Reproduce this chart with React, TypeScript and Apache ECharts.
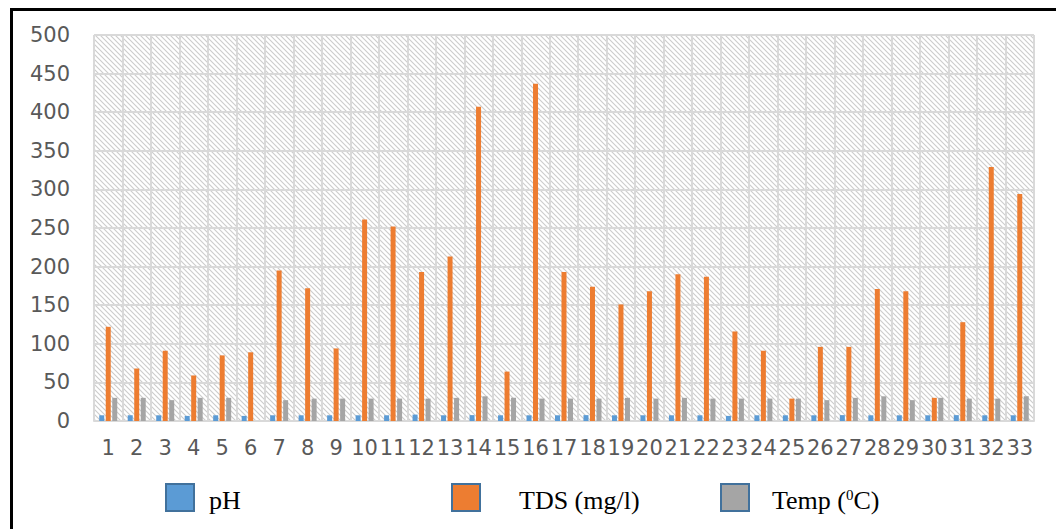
import React, { useEffect, useRef } from "react";
import * as echarts from "echarts";

const categories = Array.from({ length: 33 }, (_, i) => String(i + 1));
const phValues = [7.4, 7.4, 7.4, 6.6, 7.4, 6.6, 7.4, 7.4, 7.4, 7.4, 7.4, 8.3, 7.4, 7.6, 7.4, 7.4, 7.4, 7.6, 7.4, 7.4, 7.4, 7.4, 6.6, 7.4, 7.4, 7.4, 7.6, 7.4, 7.4, 7.4, 7.6, 7.4, 7.4];
const tdsValues = [122, 68, 91, 59, 85, 89, 195, 172, 94, 261, 252, 193, 213, 407, 64, 437, 193, 174, 151, 168, 190, 187, 116, 91, 29, 96, 96, 171, 168, 30, 128, 329, 294];
const tempValues = [30, 30, 27, 30, 30, 0, 27, 29, 29, 29, 29, 29, 30, 32, 30, 29, 29, 29, 30, 29, 30, 29, 29, 29, 29, 27, 30, 32, 27, 30, 29, 29, 32];
const yTicks = { min: 0, max: 500, interval: 50 };
const seriesNames = ["pH", "TDS (mg/l)", "Temp (0C)"];

const hatchSvg =
  '<svg xmlns="http://www.w3.org/2000/svg" width="5" height="5">' +
  '<rect width="5" height="5" fill="#ffffff"/>' +
  '<path d="M-1,-1 L6,6 M-1,4 L1,6 M4,-1 L6,1" stroke="#cccccc" stroke-width="1.1"/>' +
  "</svg>";
const hatchUrl = "data:image/svg+xml;base64," + btoa(hatchSvg);

export default function App() {
  const ref = useRef<HTMLDivElement>(null);
  useEffect(() => {
    if (!ref.current) return;
    const chart = echarts.init(ref.current, null, { renderer: "svg" });
    const legendText = {
      fontFamily: "Liberation Serif",
      fontSize: 26,
      color: "#000",
      rich: {
        sup: { fontSize: 15, fontFamily: "Liberation Serif", color: "#000", verticalAlign: "bottom", padding: [0, 0, 12, 0] },
      },
    };
    const legendBase = {
      top: 478,
      icon: "rect",
      itemWidth: 28,
      itemHeight: 27,
      itemStyle: { borderColor: "#41719C", borderWidth: 2 },
      formatter: (n: string) => (n === "Temp (0C)" ? "Temp ({sup|0}C)" : n),
    };
    chart.setOption({
      animation: false,
      backgroundColor: "#ffffff",
      grid: {
        left: 94,
        right: 22,
        top: 35,
        bottom: 108,
        show: true,
        borderWidth: 0,
        backgroundColor: { image: hatchUrl, repeat: "repeat", imageWidth: 5, imageHeight: 5 },
      },
      legend: [
        { ...legendBase, left: 160, data: [seriesNames[0]], textStyle: { ...legendText, padding: [6, 0, 0, 10] } },
        { ...legendBase, left: 446, data: [seriesNames[1]], textStyle: { ...legendText, padding: [6, 0, 0, 34] } },
        { ...legendBase, left: 715, data: [seriesNames[2]], textStyle: { ...legendText, padding: [6, 0, 0, 18] } },
      ],
      xAxis: {
        type: "category",
        data: categories,
        axisLine: { show: true, lineStyle: { color: "#d9d9d9", width: 2 } },
        axisTick: { show: false },
        splitLine: { show: true, lineStyle: { color: "#d9d9d9", width: 2 } },
        axisLabel: { interval: 0, margin: 16, color: "#595959", fontFamily: "DejaVu Sans", fontSize: 21 },
      },
      yAxis: {
        type: "value",
        min: yTicks.min,
        max: yTicks.max,
        interval: yTicks.interval,
        axisLine: { show: false },
        axisTick: { show: false },
        splitLine: { show: true, lineStyle: { color: "#d9d9d9", width: 2 } },
        axisLabel: { margin: 24, color: "#595959", fontFamily: "DejaVu Sans", fontSize: 21 },
      },
      series: [
        { name: seriesNames[0], type: "bar", data: phValues, barWidth: 5, barGap: "30%", itemStyle: { color: "#5B9BD5" } },
        { name: seriesNames[1], type: "bar", data: tdsValues, barWidth: 5, barGap: "30%", itemStyle: { color: "#ED7D31" } },
        { name: seriesNames[2], type: "bar", data: tempValues, barWidth: 5, barGap: "30%", itemStyle: { color: "#A5A5A5" } },
      ],
      graphic: [
        {
          type: "polyline",
          silent: true,
          shape: { points: [[11.5, 540], [11.5, 9.5], [1070, 9.5]] },
          style: { stroke: "#000", lineWidth: 3, fill: null },
        },
      ],
    });
    return () => chart.dispose();
  }, []);
  return <div ref={ref} style={{ width: 1056, height: 529, position: "absolute", left: 0, top: 0 }} />;
}
